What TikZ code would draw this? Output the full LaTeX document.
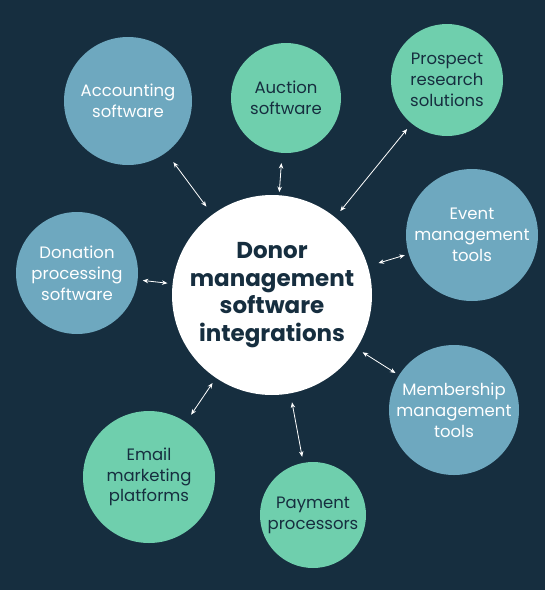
\documentclass[tikz,border=0pt]{standalone}
\usepackage{fontspec}
\setmainfont{Poppins}
\usepackage{tikz}
\usetikzlibrary{arrows.meta,positioning}
\definecolor{bgNavy}{HTML}{162E3F}
\definecolor{circBlue}{HTML}{6EA8BF}
\definecolor{circGreen}{HTML}{6FCFAD}
\tikzstyle{hubCirc} = [circle, fill=white, inner sep=-12pt, minimum size=200pt, align=center, text=bgNavy, font=\fontsize{23}{27.7}\selectfont\bfseries]
\tikzstyle{blueCirc} = [circle, fill=circBlue, inner sep=0pt, align=center, text=white, font=\fontsize{16.5}{20.8}\selectfont]
\tikzstyle{greenCirc} = [circle, fill=circGreen, inner sep=0pt, align=center, text=bgNavy, font=\fontsize{16.5}{20.8}\selectfont]
\tikzstyle{linkArrow} = [white, line width=0.8pt, {Stealth[length=5.5pt,width=4.5pt]}-{Stealth[length=5.5pt,width=4.5pt]}]

\begin{document}
\begin{tikzpicture}[x=1pt,y=-1pt]
						\fill[bgNavy] (0,0) rectangle (545,590);
						\useasboundingbox (0,0) rectangle (545,590);
						\node (hub) at (272,295) [hubCirc] {Donor\\management\\software\\integrations};
						\node (acc) at (128,101) [blueCirc, minimum size=128pt] {Accounting\\software};
						\node (auc) at (286,98) [greenCirc, minimum size=110pt] {Auction\\software};
						\node (pro) at (447,80) [greenCirc, minimum size=112pt] {Prospect\\research\\solutions};
						\node (evt) at (472,235) [blueCirc, minimum size=132pt] {Event\\management\\tools};
						\node (mem) at (454,410) [blueCirc, minimum size=130pt] {Membership\\management\\tools};
						\node (pay) at (313,515) [greenCirc, minimum size=106pt] {Payment\\processors};
						\node (mail) at (149,477) [greenCirc, minimum size=132pt] {Email\\marketing\\platforms};
						\node (don) at (77,273) [blueCirc, minimum size=122pt] {Donation\\processing\\software};
						
						\draw[linkArrow, shorten <=12pt, shorten >=10pt] (acc) -- (hub);
						\draw[linkArrow, shorten <=10pt, shorten >=3pt] (auc) -- (hub);
						\draw[linkArrow, shorten <=7pt, shorten >=8pt] (pro) -- (hub);
						\draw[linkArrow, shorten <=4pt, shorten >=11pt] (evt) -- (hub);
						\draw[linkArrow, shorten <=4pt, shorten >=7pt] (mem) -- (hub);
						\draw[linkArrow, shorten <=6pt, shorten >=9pt] (pay) -- (hub);
						\draw[linkArrow, shorten <=9pt, shorten >=6pt] (mail) -- (hub);
						\draw[linkArrow, shorten <=5pt, shorten >=5pt] (don) -- (hub);
					\end{tikzpicture}
\end{document}
